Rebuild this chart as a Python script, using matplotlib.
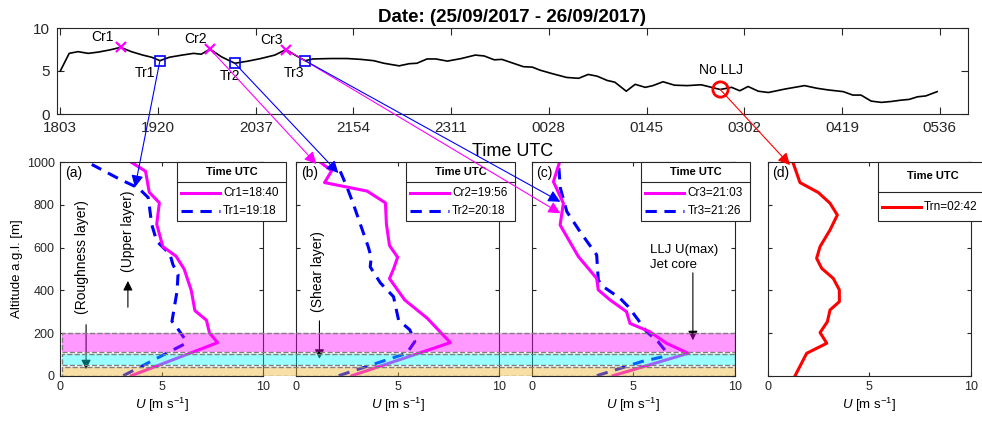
import matplotlib
matplotlib.use('Agg')
import matplotlib.pyplot as plt
from matplotlib.patches import Rectangle, ConnectionPatch
from matplotlib.lines import Line2D

plt.rcParams['font.family'] = ['Liberation Sans', 'DejaVu Sans']
plt.rcParams['mathtext.fontset'] = 'custom'
plt.rcParams['mathtext.rm'] = 'Liberation Sans'
plt.rcParams['mathtext.it'] = 'Liberation Sans:italic'
plt.rcParams['axes.edgecolor'] = '#262626'
plt.rcParams['xtick.color'] = '#262626'
plt.rcParams['ytick.color'] = '#262626'

# wind speed at the jet level, minutes after 18:03 UTC
t_min = [0, 7, 14, 22, 30, 39, 47.5, 56, 65, 72, 78.5, 86, 96, 105, 111, 118, 127,
         137.5, 148, 158, 169, 178, 185, 193, 199, 213, 226, 237, 247, 255, 267,
         275, 281, 289, 296, 305, 316, 327, 334, 342, 348, 357, 365, 372, 378,
         387.5, 399, 408.5, 416, 423, 431, 437, 446, 453, 461, 467, 475, 484, 494,
         505, 520, 529, 535.5, 542, 550, 558, 571, 586.5, 596, 605, 617, 624.5,
         631, 639, 647, 654.5, 662, 669, 675.5, 682, 691]
speed = [5.0, 7.05, 7.25, 7.05, 7.2, 7.45, 7.75, 7.25, 6.85, 6.6, 6.2, 6.6, 6.85,
         7.05, 6.95, 7.55, 6.65, 5.9, 6.15, 6.45, 6.85, 7.5, 6.85, 6.2, 6.4, 6.45,
         6.45, 6.35, 6.2, 5.9, 5.6, 5.85, 5.9, 6.4, 6.4, 6.15, 6.45, 6.85, 6.75,
         6.3, 6.35, 5.9, 5.5, 5.45, 5.1, 4.7, 4.25, 4.15, 4.6, 4.4, 3.9, 3.7, 2.65,
         3.45, 3.1, 3.3, 3.75, 3.35, 3.3, 3.4, 2.85, 3.1, 2.7, 3.2, 2.65, 2.5, 2.9,
         3.3, 3.0, 2.8, 2.6, 2.2, 2.2, 1.5, 1.35, 1.45, 1.6, 1.7, 2.0, 2.1, 2.6]
time_ticks = [0, 77, 154, 231, 308, 385, 462, 539, 616, 693]
time_labels = ['1803', '1920', '2037', '2154', '2311', '0028', '0145', '0302', '0419', '0536']

# crest / trough picks on the series
crest_names = ['Cr1', 'Cr2', 'Cr3']
crest_t = [47.5, 118, 178]
crest_v = [7.75, 7.55, 7.5]
trough_names = ['Tr1', 'Tr2', 'Tr3']
trough_t = [78.5, 137.5, 193]
trough_v = [6.2, 5.9, 6.2]
nollj_t = 520
nollj_v = 2.85

# vertical profiles: heights [m] and wind speed U [m/s]
cr1_z = [0, 155, 200, 260, 305, 400, 500, 560, 605, 710, 810, 860, 958, 1000]
cr1_u = [3.5, 7.75, 7.35, 7.2, 6.63, 6.45, 6.1, 5.7, 5.05, 4.75, 4.88, 4.38, 4.2, 3.5]
tr1_z = [0, 150, 170, 225, 255, 395, 475, 520, 570, 630, 710, 770, 835, 880, 920, 990]
tr1_u = [3.1, 6.15, 6.15, 5.75, 5.5, 5.75, 5.8, 5.55, 5.4, 4.75, 4.5, 4.42, 4.33, 3.84, 2.94, 1.55]
cr2_z = [0, 155, 270, 355, 455, 500, 555, 610, 710, 810, 865, 905, 960, 1000]
cr2_u = [2.75, 7.6, 6.45, 5.35, 4.6, 4.8, 5.0, 4.6, 4.45, 4.4, 3.5, 1.4, 1.75, 1.2]
tr2_z = [0, 105, 160, 215, 260, 325, 370, 435, 510, 555, 605, 700, 810, 885, 930, 985]
tr2_u = [2.1, 5.45, 5.85, 5.6, 5.05, 4.9, 4.8, 4.15, 3.65, 3.7, 3.55, 3.2, 2.8, 2.5, 2.3, 2.05]
cr3_z = [0, 105, 152, 206, 245, 300, 355, 402, 456, 558, 706, 808, 909, 1000]
cr3_u = [4.0, 7.7, 6.63, 5.81, 4.83, 4.66, 3.85, 3.27, 3.19, 2.29, 1.39, 1.55, 1.06, 1.36]
tr3_z = [0, 66, 89, 120, 159, 206, 261, 323, 363, 417, 448, 566, 675, 769, 880, 1000]
tr3_u = [3.2, 5.4, 6.46, 6.55, 6.22, 5.65, 5.24, 4.75, 4.34, 3.52, 3.27, 3.19, 2.37, 1.72, 1.4, 1.31]
trn_z = [0, 105, 152, 202, 253, 308, 347, 402, 456, 503, 550, 605, 683, 753, 808, 858, 905, 995]
trn_u = [1.35, 1.92, 2.91, 2.58, 2.94, 3.07, 3.53, 3.53, 3.23, 2.66, 2.41, 2.58, 3.07, 3.43, 3.07, 2.5, 1.59, 1.26]

crest_labels = ['Cr1=18:40', 'Cr2=19:56', 'Cr3=21:03']
trough_labels = ['Tr1=19:18', 'Tr2=20:18', 'Tr3=21:26']
nollj_label = 'Trn=02:42'

# layer bands (bottom, top) in m
band_lims = [(0, 40), (50, 100), (110, 200)]
band_cols = ['#EDB120', 'cyan', 'magenta']

# where each connector lands on its profile (U, z)
crest_tip = [(3.45, 1010), (1.0, 992), (1.4, 761)]
trough_tip = [(3.68, 883), (2.08, 950), (1.4, 815)]
nollj_tip = (1.1, 987)

W, H = 982, 421
fig = plt.figure(figsize=(W / 100, H / 100), dpi=100)

# ---- top panel: time series ----
axt = fig.add_axes([57 / W, 1 - 114 / H, 911 / W, 86 / H])
axt.plot(t_min, speed, color='k', lw=1.2)
axt.plot(crest_t, crest_v, 'x', color='magenta', ms=7, mew=1.6)
axt.plot(trough_t, trough_v, 's', color='blue', ms=7, mfc='none', mew=1.2)
axt.plot(nollj_t, nollj_v, 'o', color='red', ms=11, mfc='none', mew=2)
crest_dx = [-18, -14, -14.5]
trough_dx = [-15, -5, -11]
for n, t, v, dx in zip(crest_names, crest_t, crest_v, crest_dx):
    axt.annotate(n, (t, v), xytext=(dx, 10), textcoords='offset pixels',
                 ha='center', va='center', fontsize=10)
for n, t, v, dx in zip(trough_names, trough_t, trough_v, trough_dx):
    axt.annotate(n, (t, v), xytext=(dx, -12.5), textcoords='offset pixels',
                 ha='center', va='center', fontsize=10)
axt.annotate('No LLJ', (nollj_t, nollj_v), xytext=(1, 19), textcoords='offset pixels',
             ha='center', va='center', fontsize=10)
axt.set_xlim(-2.6, 715.3)
axt.set_ylim(0, 10)
axt.set_xticks(time_ticks)
axt.set_xticklabels(time_labels)
axt.set_yticks([0, 5, 10])
axt.tick_params(direction='in', top=True, right=True, length=5, labelsize=11, pad=5)
axt.set_xlabel('Time UTC', fontsize=13, labelpad=6)
axt.set_title('Date: (25/09/2017 - 26/09/2017)', fontsize=13.5, fontweight='bold', pad=4)

# ---- bottom panels: profiles ----
left0, step, pw = 60.3, 235.8, 203
bottom = 1 - 375.7 / H
ph = 213.4 / H
axs = []
for i in range(4):
    ax = fig.add_axes([(left0 + step * i) / W, bottom, pw / W, ph])
    ax.set_xlim(0, 10)
    ax.set_ylim(0, 1000)
    ax.set_xticks([0, 5, 10])
    ax.set_yticks(range(0, 1001, 200))
    ax.tick_params(direction='in', top=True, right=True, length=3, labelsize=9, pad=4)
    if i > 0:
        ax.set_yticklabels([])
    ax.set_xlabel(r'$U$ [m s$^{-1}$]', fontsize=9.5, labelpad=2)
    ax.text(0.023, 0.95, '(' + 'abcd'[i] + ')', transform=ax.transAxes,
            ha='left', va='center', fontsize=10)
    axs.append(ax)
axs[0].set_ylabel('Altitude a.g.l. [m]', fontsize=9.5, labelpad=3)

solid = dict(color='magenta', lw=2.2)
dash = dict(color='blue', lw=2.2, dashes=(3.7, 2.5))
profiles = [(cr1_u, cr1_z, tr1_u, tr1_z), (cr2_u, cr2_z, tr2_u, tr2_z),
            (cr3_u, cr3_z, tr3_u, tr3_z)]
for ax, (cu, cz, tu, tz) in zip(axs, profiles):
    ax.plot(tu, tz, **dash)
    ax.plot(cu, cz, **solid)
axs[3].plot(trn_u, trn_z, color='red', lw=2.2)


def legend_box(ax, x0, entries, title_y=0.954, sep_y=0.907, rows=(0.855, 0.772)):
    w = 0.537
    ax.add_patch(Rectangle((x0, 0.725), w, 0.275, transform=ax.transAxes, fc='white',
                           ec='#262626', lw=0.8, clip_on=False, zorder=5))
    ax.add_line(Line2D([x0, x0 + w], [sep_y, sep_y], transform=ax.transAxes,
                       color='#262626', lw=0.8, clip_on=False, zorder=6))
    ax.text(x0 + w / 2, title_y, 'Time UTC', transform=ax.transAxes, ha='center',
            va='center', fontsize=8, fontweight='bold', zorder=6, clip_on=False)
    for (lab, style), y in zip(entries, rows):
        ax.add_line(Line2D([x0 + 0.02, x0 + 0.212], [y, y], transform=ax.transAxes,
                           clip_on=False, zorder=6, **style))
        ax.text(x0 + 0.227, y, lab, transform=ax.transAxes, ha='left', va='center',
                fontsize=8.5, zorder=6, clip_on=False)


legend_x = [0.575, 0.542, 0.539]
for i in range(3):
    legend_box(axs[i], legend_x[i], [(crest_labels[i], solid), (trough_labels[i], dash)])
legend_box(axs[3], 0.543, [(nollj_label, dict(color='red', lw=2.2))],
           title_y=0.936, sep_y=0.86, rows=(0.79,))

# layer annotations
arw = dict(arrowstyle='-|>', color='k', lw=0.8, mutation_scale=14)
axs[0].text(1.07, 558, '(Roughness layer)', rotation=90, ha='center', va='center', fontsize=10)
axs[0].annotate('', xy=(1.27, 17), xytext=(1.27, 252), arrowprops=arw)
axs[0].text(3.33, 675, '(Upper layer)', rotation=90, ha='center', va='center', fontsize=10)
axs[0].annotate('', xy=(3.33, 457), xytext=(3.33, 308), arrowprops=arw)
axs[1].text(1.1, 488, '(Shear layer)', rotation=90, ha='center', va='center', fontsize=10)
axs[1].annotate('', xy=(1.15, 66), xytext=(1.15, 270), arrowprops=arw)
axs[2].text(5.82, 554, 'LLJ U(max)\nJet core', ha='left', va='center', fontsize=9.5,
            linespacing=1.25)
axs[2].annotate('', xy=(7.93, 153), xytext=(7.93, 495), arrowprops=arw)

# translucent layer bands across panels (a)-(c)
band_right = 735
axb = fig.add_axes([left0 / W, bottom, (band_right - left0) / W, ph], zorder=0.5)
axb.set_xlim(0, 1)
axb.set_ylim(0, 1000)
axb.axis('off')
axb.patch.set_alpha(0)
for (z0, z1), c in zip(band_lims, band_cols):
    axb.add_patch(Rectangle((0.003, z0), 0.997, z1 - z0, fc=c, alpha=0.4, ec='none'))
    axb.add_patch(Rectangle((0.003, z0), 0.997, z1 - z0, fc='none', ec='#7f7f7f',
                            lw=1, ls='--'))

# connectors from the time series to the profiles
conn = dict(arrowstyle='-|>', mutation_scale=18, lw=0.8, zorder=3)
for i in range(3):
    fig.add_artist(ConnectionPatch((crest_t[i], crest_v[i]), crest_tip[i], 'data', 'data',
                                   axesA=axt, axesB=axs[i], color='magenta', **conn))
    fig.add_artist(ConnectionPatch((trough_t[i], trough_v[i]), trough_tip[i], 'data', 'data',
                                   axesA=axt, axesB=axs[i], color='blue', **conn))
fig.add_artist(ConnectionPatch((nollj_t, nollj_v), nollj_tip, 'data', 'data',
                               axesA=axt, axesB=axs[3], color='red', **conn))

fig.savefig('out.png', dpi=100)
